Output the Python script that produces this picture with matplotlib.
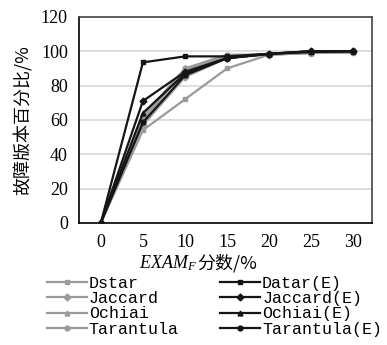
import numpy as np
import matplotlib.pyplot as plt

x = [0, 5, 10, 15, 20, 25, 30]

dstar = [0, 54, 72, 90, 98, 99, 99.5]
jaccard = [0, 57, 85, 96, 98, 99, 99.5]
ochiai = [0, 60, 89, 97, 98.5, 99, 99.5]
tarantula = [0, 62, 90, 98, 98, 99, 99.5]
datar_e = [0, 93.5, 97, 97, 98.5, 99.5, 100]
jaccard_e = [0, 71, 88, 96, 98.5, 100, 100]
ochiai_e = [0, 64, 87, 96, 98.5, 100, 100]
tarantula_e = [0, 58.5, 86, 96, 98.5, 100, 100]

names = ['Dstar', 'Jaccard', 'Ochiai', 'Tarantula',
         'Datar(E)', 'Jaccard(E)', 'Ochiai(E)', 'Tarantula(E)']
series = [dstar, jaccard, ochiai, tarantula,
          datar_e, jaccard_e, ochiai_e, tarantula_e]
markers = ['s', 'D', '^', 'o', 's', 'D', '^', 'o']

plt.rcParams['mathtext.fontset'] = 'custom'
plt.rcParams['mathtext.it'] = 'Liberation Serif:italic'

fig = plt.figure(figsize=(3.87, 3.45), dpi=100)
ax = fig.add_axes([0.204, 0.354, 0.757, 0.597])

for i in range(8):
    c = '#9a9a9a' if i < 4 else '#151515'
    ax.plot(x, series[i], color=c, lw=1.6, marker=markers[i], ms=3.5,
            label=names[i], zorder=3 + (i >= 4))

ax.set_xlim(-2.6, 32.2)
ax.set_ylim(0, 120)
ax.set_xticks(x)
ax.set_yticks(range(0, 121, 20))
ax.yaxis.grid(True, color='#d8d8d8', lw=1.2)
ax.set_axisbelow(True)
ax.tick_params(length=0, labelsize=13)
ax.tick_params(axis='x', pad=8)
ax.tick_params(axis='y', pad=8)
for lab in ax.get_xticklabels() + ax.get_yticklabels():
    lab.set_family('Liberation Serif')
for s in ax.spines.values():
    s.set_color('#444444')
    s.set_linewidth(1.2)
ax.spines['left'].set_color('black')
ax.spines['bottom'].set_color('black')

ax.set_ylabel('故障版本百分比/%', family=['Noto Sans CJK SC'], fontsize=13, labelpad=6)

# x label: italic EXAM_F followed by Chinese text
t1 = fig.text(0.51, 0.222, r'$\mathit{EXAM}_F$', fontsize=13, ha='right', va='baseline')
fig.canvas.draw()
ax.annotate('分数/%', xy=(1, 0), xycoords=t1, xytext=(0, 0.5), textcoords='offset points',
            va='bottom', ha='left', fontsize=13,
            family=['Noto Sans CJK SC', 'DejaVu Sans'], annotation_clip=False)

h, l = ax.get_legend_handles_labels()
fig.legend(h, l, loc='lower left', bbox_to_anchor=(0.1, 0.0), ncol=2,
           frameon=False, prop={'family': 'Liberation Mono', 'size': 12},
           labelspacing=0.02, handlelength=2.4, handletextpad=0.1,
           columnspacing=2.5, borderaxespad=0.1)

fig.savefig('out.png', dpi=100)
